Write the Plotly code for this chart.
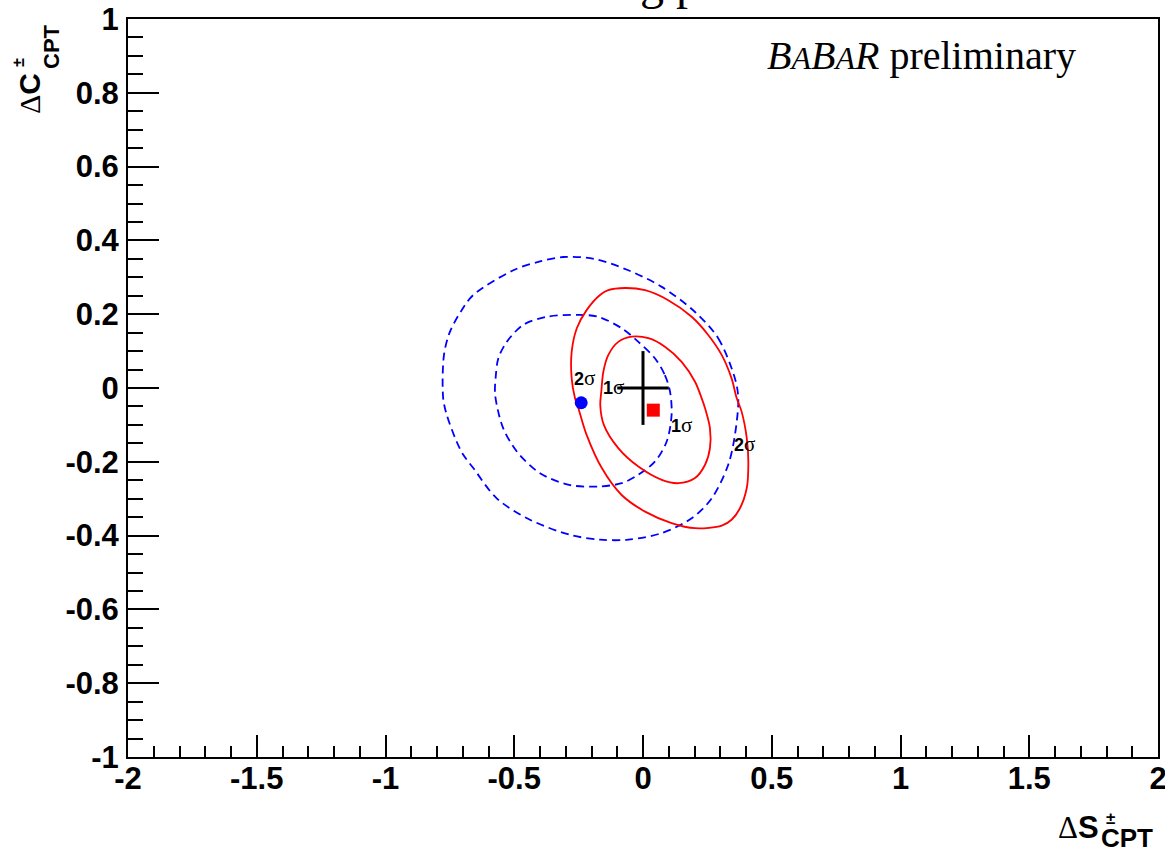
import plotly.graph_objects as go

# ---------------- data ----------------
x_tickvals = [-2, -1.5, -1, -0.5, 0, 0.5, 1, 1.5, 2]
x_ticktext = ["-2", "-1.5", "-1", "-0.5", "0", "0.5", "1", "1.5", "2"]
y_tickvals = [-1, -0.8, -0.6, -0.4, -0.2, 0, 0.2, 0.4, 0.6, 0.8, 1]
y_ticktext = ["-1", "-0.8", "-0.6", "-0.4", "-0.2", "0", "0.2", "0.4", "0.6", "0.8", "1"]

# blue dashed contours (2 sigma outer, 1 sigma inner)
blue2_x = [0.202, 0.292, 0.357, 0.370, 0.357, 0.331, 0.267, 0.189, 0.073, -0.057,
           -0.167, -0.283, -0.439, -0.568, -0.659, -0.698, -0.724, -0.762, -0.776, -0.773,
           -0.750, -0.704, -0.659, -0.504, -0.400, -0.310, -0.190, -0.057, 0.073, 0.202]
blue2_y = [0.206, 0.135, 0.026, -0.028, -0.127, -0.208, -0.299, -0.353, -0.393, -0.411,
           -0.411, -0.398, -0.357, -0.299, -0.217, -0.181, -0.145, -0.073, -0.028, 0.089,
           0.152, 0.211, 0.252, 0.319, 0.343, 0.355, 0.350, 0.319, 0.274, 0.206]

blue1_x = [0.047, 0.085, 0.105, 0.111, 0.092, 0.047, -0.018, -0.083, -0.174, -0.283,
           -0.400, -0.490, -0.543, -0.568, -0.575, -0.572, -0.562, -0.529, -0.465, -0.374,
           -0.245, -0.174, -0.083, -0.018, 0.047]
blue1_y = [0.080, 0.035, -0.010, -0.073, -0.145, -0.199, -0.235, -0.258, -0.267, -0.263,
           -0.231, -0.172, -0.109, -0.046, -0.010, 0.030, 0.080, 0.125, 0.171, 0.193,
           0.198, 0.193, 0.162, 0.125, 0.080]

# red solid contours (2 sigma outer, 1 sigma inner)
red2_x = [-0.083, -0.160, -0.219, -0.251, -0.264, -0.277, -0.277, -0.257, -0.219, -0.167,
          -0.135, -0.070, 0.008, 0.098, 0.189, 0.254, 0.306, 0.344, 0.364, 0.383,
          0.403, 0.409, 0.403, 0.375, 0.344, 0.306, 0.202, 0.111, 0.008, -0.083]
red2_y = [-0.290, -0.217, -0.127, -0.055, -0.028, 0.026, 0.098, 0.162, 0.211, 0.252,
          0.265, 0.271, 0.265, 0.238, 0.193, 0.143, 0.089, 0.026, -0.028, -0.064,
          -0.136, -0.199, -0.271, -0.328, -0.357, -0.373, -0.380, -0.366, -0.335, -0.290]

red1_x = [-0.096, -0.152, -0.166, -0.162, -0.154, -0.135, -0.096, -0.044, 0.021, 0.085,
          0.150, 0.202, 0.228, 0.241, 0.260, 0.260, 0.241, 0.202, 0.137, 0.073,
          -0.018, -0.096]
red1_y = [-0.163, -0.100, -0.046, -0.010, 0.044, 0.089, 0.125, 0.139, 0.135, 0.112,
          0.071, 0.017, -0.028, -0.055, -0.109, -0.163, -0.208, -0.244, -0.258, -0.249,
          -0.213, -0.163]

# central values
blue_point = (-0.24, -0.04)
red_point = (0.04, -0.06)
cross_center = (0.0, 0.0)
cross_err_x = 0.1
cross_err_y = 0.1

# contour labels
label_text = ["2", "1", "1", "2"]
label_x = [-0.229, -0.113, 0.151, 0.396]
label_y = [0.027, 0.003, -0.100, -0.152]

# ---------------- figure ----------------
W, H = 1165, 848
ML, MR, MT, MB = 128, 7, 19, 91
PW, PH = W - ML - MR, H - MT - MB


def px(xp):
    return (xp - ML) / PW


def py(yp):
    return (H - MB - yp) / PH


fig = go.Figure()

dash_line = dict(color="#0000ff", width=1.8, dash="8px,5px", shape="spline", smoothing=0.9)
solid_line = dict(color="#ff0000", width=1.8, shape="spline", smoothing=0.9)

fig.add_trace(go.Scatter(x=blue2_x, y=blue2_y, mode="lines", line=dash_line,
                         hoverinfo="skip", showlegend=False))
fig.add_trace(go.Scatter(x=blue1_x, y=blue1_y, mode="lines", line=dash_line,
                         hoverinfo="skip", showlegend=False))
fig.add_trace(go.Scatter(x=red2_x, y=red2_y, mode="lines", line=solid_line,
                         hoverinfo="skip", showlegend=False))
fig.add_trace(go.Scatter(x=red1_x, y=red1_y, mode="lines", line=solid_line,
                         hoverinfo="skip", showlegend=False))

# cross (error bars)
fig.add_trace(go.Scatter(x=[cross_center[0]], y=[cross_center[1]], mode="markers",
                         marker=dict(size=1, color="rgba(0,0,0,0)"),
                         error_x=dict(type="constant", value=cross_err_x, width=0, thickness=3, color="black"),
                         error_y=dict(type="constant", value=cross_err_y, width=0, thickness=3, color="black"),
                         showlegend=False))

fig.add_trace(go.Scatter(x=[blue_point[0]], y=[blue_point[1]], mode="markers",
                         marker=dict(symbol="circle", size=13, color="#0000ff"), showlegend=False))
fig.add_trace(go.Scatter(x=[red_point[0]], y=[red_point[1]], mode="markers",
                         marker=dict(symbol="square", size=13, color="#ff0000"), showlegend=False))

sig = "<span style='font-family:Liberation Serif;font-weight:normal;font-size:21px'>σ</span>"
for t, lx, ly in zip(label_text, label_x, label_y):
    fig.add_annotation(x=lx, y=ly, xref="x", yref="y", text="<b>" + t + "</b>" + sig,
                       showarrow=False, font=dict(family="Liberation Sans", size=18, color="black"))

ann_font_sans = "Liberation Sans, Arial, sans-serif"
ann_font_serif = "Liberation Serif, Times New Roman, serif"

# BABAR preliminary
fig.add_annotation(x=px(1078), y=py(55), xref="paper", yref="paper", xanchor="right", yanchor="middle",
                   text="<i>B<span style='font-size:32px'>A</span>B<span style='font-size:32px'>A</span>R</i> preliminary",
                   showarrow=False, font=dict(family=ann_font_serif, size=40, color="black"))

# cut-off title at the top
fig.add_annotation(x=px(670), y=py(11), xref="paper", yref="paper", xanchor="center", yanchor="bottom",
                   text="g p", showarrow=False, font=dict(family=ann_font_serif, size=48, color="black"))

# x axis title  ΔS±CPT
fig.add_annotation(x=px(1101), y=py(828), xref="paper", yref="paper", xanchor="right", yanchor="middle",
                   text="<span style='font-family:Liberation Serif;font-weight:normal'>Δ</span><b>S</b>",
                   showarrow=False, font=dict(family=ann_font_sans, size=31, color="black"))
fig.add_annotation(x=px(1110), y=py(818), xref="paper", yref="paper", xanchor="center", yanchor="middle",
                   text="<b>±</b>", showarrow=False, font=dict(family=ann_font_sans, size=17, color="black"))
fig.add_annotation(x=px(1099), y=py(838), xref="paper", yref="paper", xanchor="left", yanchor="middle",
                   text="<b>CPT</b>", showarrow=False, font=dict(family=ann_font_sans, size=26, color="black"))

# y axis title  ΔC±CPT (rotated)
fig.add_annotation(x=px(29), y=py(94), xref="paper", yref="paper", xanchor="center", yanchor="middle",
                   textangle=-90,
                   text="<span style='font-family:Liberation Serif;font-weight:normal'>Δ</span><b>C</b>",
                   showarrow=False, font=dict(family=ann_font_sans, size=30, color="black"))
fig.add_annotation(x=px(19), y=py(63), xref="paper", yref="paper", xanchor="center", yanchor="middle",
                   textangle=-90, text="<b>±</b>", showarrow=False,
                   font=dict(family=ann_font_sans, size=16, color="black"))
fig.add_annotation(x=px(52), y=py(47), xref="paper", yref="paper", xanchor="center", yanchor="middle",
                   textangle=-90, text="<b>CPT</b>", showarrow=False,
                   font=dict(family=ann_font_sans, size=22, color="black"))

tickfont = dict(family=ann_font_sans, size=31, color="black", weight="bold")

fig.update_xaxes(range=[-2, 2], tickmode="array", tickvals=x_tickvals, ticktext=x_ticktext,
                 ticks="inside", ticklen=22, tickwidth=2, tickcolor="black",
                 minor=dict(tickmode="linear", tick0=-2, dtick=0.1, ticks="inside", ticklen=11,
                            tickwidth=2, tickcolor="black", showgrid=False),
                 showgrid=False, zeroline=False, showline=True, linewidth=2, linecolor="black",
                 mirror=True, tickfont=tickfont, ticklabelstandoff=-7, automargin=False,
                 ticklabeloverflow="allow")
fig.update_yaxes(range=[-1, 1], tickmode="array", tickvals=y_tickvals, ticktext=y_ticktext,
                 ticks="inside", ticklen=31, tickwidth=2, tickcolor="black",
                 minor=dict(tickmode="linear", tick0=-1, dtick=0.05, ticks="inside", ticklen=15,
                            tickwidth=2, tickcolor="black", showgrid=False),
                 showgrid=False, zeroline=False, showline=True, linewidth=2, linecolor="black",
                 mirror=True, tickfont=tickfont, ticklabelstandoff=1, automargin=False,
                 ticklabeloverflow="allow")

fig.update_layout(width=W, height=H, margin=dict(l=ML, r=MR, t=MT, b=MB),
                  paper_bgcolor="white", plot_bgcolor="white", showlegend=False)

fig.write_html("out.html")
